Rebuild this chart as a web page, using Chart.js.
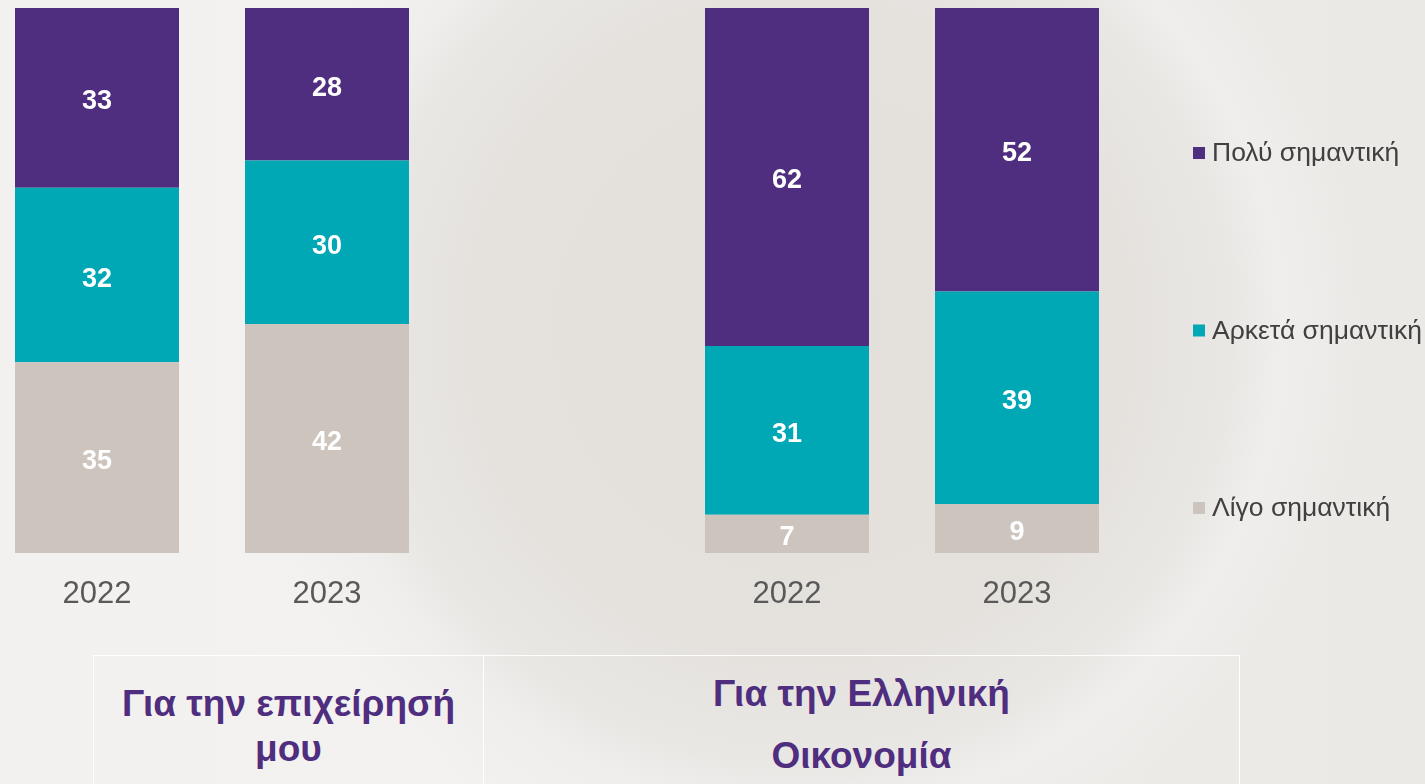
<!DOCTYPE html>
<html>
<head>
<meta charset="utf-8">
<script src="https://cdn.jsdelivr.net/npm/chart.js@4"></script>
<style>
  html, body { margin:0; padding:0; width:1425px; height:784px; overflow:hidden; }
  body {
    position:relative;
    font-family:"Liberation Sans", Arial, sans-serif;
    background:
      radial-gradient(circle at 800px 330px, #e3e0dc 0px, #e5e2de 330px, #e9e7e4 430px, #f0eeec 480px, rgba(240,238,236,0) 560px),
      linear-gradient(90deg, #f2f1ef 0%, #f3f2f0 30%, #eeece9 60%, #ebe9e6 100%);
  }
  #wrap { position:absolute; left:-18px; top:0; width:1443px; height:640px; }
  #groups {
    position:absolute; left:93px; top:655px; width:1147px; height:160px;
    border:1px solid rgba(255,255,255,0.95); box-sizing:border-box; display:flex;
  }
  .cell { box-sizing:border-box; text-align:center; color:#4f2d7f; font-weight:bold; font-size:37px; white-space:nowrap; }
  #g0 { width:390px; border-right:1px solid rgba(255,255,255,0.95); padding-top:25px; line-height:45px; }
  #g1 { flex:1; padding-top:7px; line-height:62px; }
</style>
</head>
<body>
<div id="wrap"><canvas id="c"></canvas></div>
<div id="groups"><div class="cell" id="g0"></div><div class="cell" id="g1"></div></div>
<script>
const categories = ['2022', '2023', '', '2022', '2023'];
const littleImportant = [35, 42, null, 7, 9];
const fairlyImportant = [32, 30, null, 31, 39];
const veryImportant = [33, 28, null, 62, 52];
const seriesNames = ['Λίγο σημαντική', 'Αρκετά σημαντική', 'Πολύ σημαντική'];
const seriesColors = ['#ccc4bd', '#00a8b5', '#4f2d7f'];
const groupTitles = [['Για την επιχείρησή', 'μου'], ['Για την Ελληνική', 'Οικονομία']];

document.getElementById('g0').innerHTML = groupTitles[0].join('<br>');
document.getElementById('g1').innerHTML = groupTitles[1].join('<br>');

const valueLabels = {
  id: 'valueLabels',
  afterDatasetsDraw(chart) {
    const ctx = chart.ctx;
    ctx.save();
    ctx.font = 'bold 27px "Liberation Sans", Arial, sans-serif';
    ctx.fillStyle = '#ffffff';
    ctx.textAlign = 'center';
    ctx.textBaseline = 'middle';
    chart.data.datasets.forEach((ds, i) => {
      chart.getDatasetMeta(i).data.forEach((bar, j) => {
        const v = ds.data[j];
        if (v == null) return;
        const p = bar.getProps(['x', 'y', 'base'], true);
        ctx.fillText(String(v), p.x, (p.y + p.base) / 2 + 4);
      });
    });
    ctx.restore();
  }
};

const sideLegend = {
  id: 'sideLegend',
  afterDraw(chart, args, opts) {
    const ctx = chart.ctx;
    ctx.save();
    ctx.font = '26.5px "Liberation Sans", Arial, sans-serif';
    ctx.textBaseline = 'middle';
    ctx.textAlign = 'left';
    const ds = chart.data.datasets.slice().reverse();
    ds.forEach((d, k) => {
      const y = opts.top + k * opts.step;
      ctx.fillStyle = d.backgroundColor;
      ctx.fillRect(opts.x, y - 6, 12, 12);
      ctx.fillStyle = '#404040';
      ctx.fillText(d.label, opts.x + 19, y + 1);
    });
    ctx.restore();
  }
};

new Chart(document.getElementById('c'), {
  type: 'bar',
  data: {
    labels: categories,
    datasets: [
      { label: seriesNames[0], data: littleImportant, backgroundColor: seriesColors[0] },
      { label: seriesNames[1], data: fairlyImportant, backgroundColor: seriesColors[1] },
      { label: seriesNames[2], data: veryImportant, backgroundColor: seriesColors[2] }
    ]
  },
  options: {
    responsive: true,
    maintainAspectRatio: false,
    animation: false,
    layout: { padding: { top: 8, right: 293, left: 0, bottom: 0 } },
    datasets: { bar: { categoryPercentage: 1, barPercentage: 164 / 230, borderWidth: 0 } },
    scales: {
      x: {
        stacked: true,
        grid: { display: false, drawTicks: false },
        border: { display: false },
        ticks: { color: '#595959', font: { family: '"Liberation Sans", Arial, sans-serif', size: 31 }, padding: 23 },
        afterFit(scale) { scale.height = 87; }
      },
      y: { stacked: true, min: 0, max: 100, display: false }
    },
    plugins: {
      legend: { display: false },
      tooltip: { enabled: false },
      sideLegend: { x: 1211, top: 153, step: 177.5 }
    }
  },
  plugins: [valueLabels, sideLegend]
});
</script>
</body>
</html>
